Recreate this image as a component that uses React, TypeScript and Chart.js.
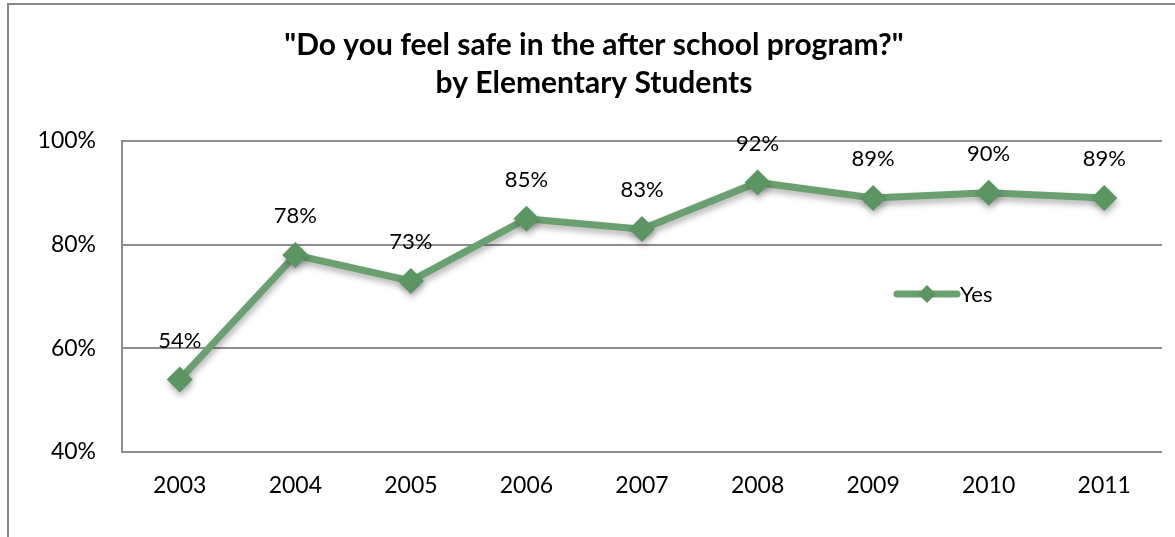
import React, { useEffect, useRef } from "react";
import { Chart, registerables } from "chart.js";

Chart.register(...registerables);

const categories = ["2003", "2004", "2005", "2006", "2007", "2008", "2009", "2010", "2011"];
const yesValues = [54, 78, 73, 85, 83, 92, 89, 90, 89];
const yTicks = [40, 60, 80, 100];
const titleLines = ['"Do you feel safe in the after school program?"', "by Elementary Students"];
const seriesName = "Yes";

const FONT = "Lato, 'Open Sans', 'DejaVu Sans', sans-serif";
const LINE_COLOR = "#6aa070";
const MARKER_COLOR = "#5b9562";
const GRID_COLOR = "#8e8e8e";

export default function App() {
  const canvasRef = useRef<HTMLCanvasElement | null>(null);

  useEffect(() => {
    const canvas = canvasRef.current;
    if (!canvas) return;

    const framePlugin = {
      id: "frame",
      beforeDraw(chart: any) {
        const ctx = chart.ctx;
        ctx.save();
        ctx.fillStyle = "#ffffff";
        ctx.fillRect(0, 0, chart.width, chart.height);
        ctx.strokeStyle = "#868686";
        ctx.lineWidth = 2;
        ctx.strokeRect(8, 4, chart.width + 20, chart.height + 20);
        ctx.restore();
      },
    };

    const shadowPlugin = {
      id: "shadow",
      beforeDatasetsDraw(chart: any) {
        const ctx = chart.ctx;
        ctx.save();
        ctx.shadowColor = "rgba(0,0,0,0.30)";
        ctx.shadowBlur = 6;
        ctx.shadowOffsetX = 1;
        ctx.shadowOffsetY = 4;
      },
      afterDatasetsDraw(chart: any) {
        chart.ctx.restore();
      },
    };

    const overlayPlugin = {
      id: "overlay",
      afterDraw(chart: any) {
        const ctx = chart.ctx;
        ctx.save();
        // Title
        ctx.fillStyle = "#000000";
        ctx.textAlign = "center";
        ctx.textBaseline = "middle";
        ctx.font = `bold 30px ${FONT}`;
        ctx.fillText(titleLines[0], 594, 45);
        ctx.fillText(titleLines[1], 594, 83);

        // Data labels
        ctx.font = `22px ${FONT}`;
        const meta = chart.getDatasetMeta(0);
        meta.data.forEach((pt: any, i: number) => {
          ctx.fillText(`${yesValues[i]}%`, pt.x, pt.y - 39);
        });

        // Legend
        const lx0 = 897, lx1 = 957, ly = 294;
        ctx.strokeStyle = LINE_COLOR;
        ctx.lineWidth = 7;
        ctx.lineCap = "round";
        ctx.beginPath();
        ctx.moveTo(lx0, ly);
        ctx.lineTo(lx1, ly);
        ctx.stroke();
        ctx.fillStyle = MARKER_COLOR;
        const mx = (lx0 + lx1) / 2, r = 9;
        ctx.beginPath();
        ctx.moveTo(mx - r, ly);
        ctx.lineTo(mx, ly - r);
        ctx.lineTo(mx + r, ly);
        ctx.lineTo(mx, ly + r);
        ctx.closePath();
        ctx.fill();
        ctx.fillStyle = "#000000";
        ctx.textAlign = "left";
        ctx.font = `22px ${FONT}`;
        ctx.fillText(seriesName, 960, ly + 1);
        ctx.restore();
      },
    };

    const chart = new Chart(canvas, {
      type: "line",
      data: {
        labels: categories,
        datasets: [
          {
            label: seriesName,
            data: yesValues,
            borderColor: LINE_COLOR,
            backgroundColor: MARKER_COLOR,
            borderWidth: 7,
            pointStyle: "rectRot",
            pointRadius: 13,
            pointHoverRadius: 13,
            pointBackgroundColor: MARKER_COLOR,
            pointBorderColor: MARKER_COLOR,
            pointBorderWidth: 0,
            tension: 0,
            fill: false,
          },
        ],
      },
      options: {
        animation: false,
        responsive: false,
        maintainAspectRatio: false,
        events: [],
        layout: { padding: { left: 8, right: 7, top: 141, bottom: 0 } },
        plugins: {
          legend: { display: false },
          title: { display: false },
          tooltip: { enabled: false },
        },
        scales: {
          x: {
            offset: true,
            grid: { display: false, drawTicks: false },
            border: { display: false },
            ticks: {
              color: "#000000",
              font: { family: FONT, size: 23 },
              padding: 20,
              maxRotation: 0,
            },
            afterFit(scale: any) {
              scale.height = 85;
            },
          },
          y: {
            min: 40,
            max: 100,
            afterBuildTicks(scale: any) {
              scale.ticks = yTicks.map((v) => ({ value: v }));
            },
            grid: {
              color: GRID_COLOR,
              lineWidth: 2,
              drawTicks: false,
            },
            border: { display: true, color: GRID_COLOR, width: 2 },
            ticks: {
              color: "#000000",
              font: { family: FONT, size: 23 },
              padding: 26,
              callback: (v: any) => `${v}%`,
            },
            afterFit(scale: any) {
              scale.width = 114;
            },
          },
        },
      },
      plugins: [framePlugin, shadowPlugin, overlayPlugin],
    });

    return () => chart.destroy();
  }, []);

  return (
    <div style={{ position: "fixed", left: 0, top: 0, width: 1175, height: 537, background: "#fff" }}>
      <canvas ref={canvasRef} width={1175} height={537} style={{ width: 1175, height: 537, display: "block" }} />
    </div>
  );
}
